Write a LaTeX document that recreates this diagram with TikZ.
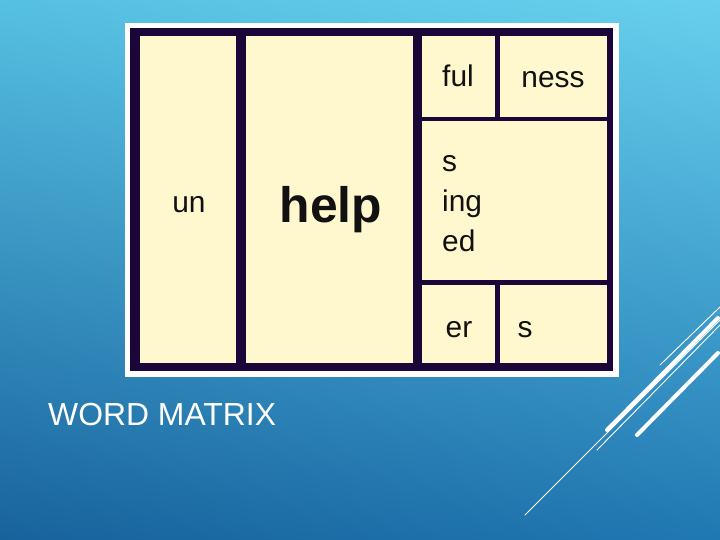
\documentclass[tikz,border=0pt]{standalone}
\usepackage{fontspec}
\setmainfont{Liberation Sans}
\usepackage{tikz}
\usetikzlibrary{shadings}
\definecolor{cream}{RGB}{255,248,206}
\definecolor{frame}{RGB}{26,6,56}
\definecolor{ink}{RGB}{17,17,17}
\definecolor{skyTL}{RGB}{86,192,226}
\definecolor{skyTR}{RGB}{104,208,238}
\definecolor{skyBL}{RGB}{24,98,156}
\definecolor{skyBR}{RGB}{32,120,178}
\tikzset{
  cell/.style={fill=cream},
  part/.style={font=\fontsize{30}{36}\selectfont, text=ink, anchor=base, inner sep=0pt},
  stem/.style={font=\fontsize{50}{60}\selectfont\bfseries, text=ink, anchor=base, inner sep=0pt},
  deco/.style={white, line cap=round}
}

\begin{document}
\begin{tikzpicture}[x=1bp,y=-1bp]
 \useasboundingbox (0,0) rectangle (720,540);
 \shade[upper left=skyTL, upper right=skyTR, lower left=skyBL, lower right=skyBR] (0,0) rectangle (720,540);
 % the matrix
 \fill[white] (125,23) rectangle (619,377);
 \fill[frame] (130,28) rectangle (613,371);
 \fill[cell] (140,36) rectangle (236,363);
 \fill[cell] (246,36) rectangle (413,363);
 \fill[cell] (422,36) rectangle (495,117);
 \fill[cell] (500,36) rectangle (607,117);
 \fill[cell] (422,121) rectangle (607,280);
 \fill[cell] (422,285) rectangle (495,363);
 \fill[cell] (500,285) rectangle (607,363);
 \node[part] (un) at (189,213) {un};
 \node[stem] (help) at (331,223) {help};
 \node[part] (ful) at (458,87) {ful};
 \node[part] (ness) at (553,88) {ness};
 \node[part, anchor=base west] (sfx1) at (442,172) {s};
 \node[part, anchor=base west] (sfx2) at (442,212) {ing};
 \node[part, anchor=base west] (sfx3) at (442,252) {ed};
 \node[part] (er) at (459,337) {er};
 \node[part] (plural) at (525,337) {s};
 % title
 \node[font=\fontsize{32}{38}\selectfont, text=white, anchor=base west, inner sep=0pt] (title) at (48,425) {WORD MATRIX};
 % lines in the corner
 \draw[deco, line width=0.9bp] (660,365) -- (720,307);
 \draw[deco, line width=0.9bp] (525,515) -- (720,320);
 \draw[deco, line width=0.9bp] (597,450) -- (720,325);
 \draw[deco, line width=4bp] (607,430) -- (718,318);
 \draw[deco, line width=4bp] (637,435) -- (718,353);
\end{tikzpicture}
\end{document}
